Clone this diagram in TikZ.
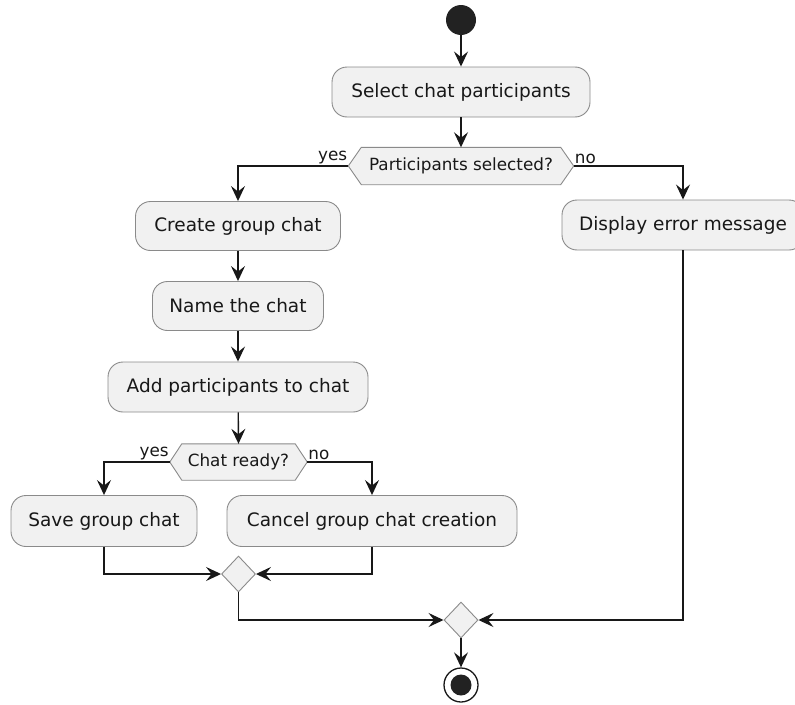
\documentclass[tikz,border=0pt]{standalone}
\usepackage{fontspec}
\setmainfont{DejaVu Sans}
\usetikzlibrary{arrows.meta,shapes.geometric,backgrounds}
\definecolor{actfill}{HTML}{F1F1F1}
\definecolor{actline}{HTML}{181818}
\definecolor{actborder}{HTML}{8A8A8A}
\definecolor{dotfill}{HTML}{222222}
\tikzset{
  actbox/.style={draw=actborder, line width=0.9pt, fill=actfill, rounded corners=15pt,
    minimum height=50pt, inner sep=0pt, font=\fontsize{18.5}{20}\selectfont, text=actline},
  hexnode/.style={minimum height=37pt, inner sep=0pt, font=\fontsize{16.8}{18}\selectfont, text=actline},
  hexshape/.style={draw=actborder, line width=0.9pt, fill=actfill},
  merge/.style={diamond, draw=actborder, line width=0.9pt, fill=actfill, inner sep=0pt,
    minimum width=34pt, minimum height=36pt},
  flow/.style={draw=actline, line width=1.4pt, -{Stealth[length=15pt,width=14pt,inset=5.5pt]}},
  guard/.style={font=\fontsize{16.8}{18}\selectfont, text=actline, inner sep=1pt},
}
\newcommand{\hexagonpath}[2]{%
  \path[hexshape] (#1.west) -- ([xshift=#2]#1.north west) -- ([xshift=-#2]#1.north east)
    -- (#1.east) -- ([xshift=-#2]#1.south east) -- ([xshift=#2]#1.south west) -- cycle;}
\begin{document}
\begin{tikzpicture}[x=1pt,y=1pt]
\useasboundingbox (0,0) rectangle (795,-704);

% start and activities
\node[circle, fill=dotfill, minimum size=30pt, inner sep=0pt] (start) at (461,-20) {};
\node[actbox, minimum width=258pt] (sel) at (461,-92) {Select chat participants};
\node[hexnode, minimum width=225pt] (d1) at (461,-166) {Participants selected?};
\node[actbox, minimum width=205pt, minimum height=49pt] (create) at (238,-226) {Create group chat};
\node[actbox, minimum width=242pt] (err) at (683,-225) {Display error message};
\node[actbox, minimum width=171pt, minimum height=49pt] (name) at (238,-306) {Name the chat};
\node[actbox, minimum width=260pt] (add) at (238,-387) {Add participants to chat};
\node[hexnode, minimum width=137pt, minimum height=36pt] (d2) at (238.5,-462) {Chat ready?};
\node[actbox, minimum width=186pt, minimum height=51pt] (save) at (104,-521) {Save group chat};
\node[actbox, minimum width=290pt, minimum height=51pt] (cancel) at (372,-521) {Cancel group chat creation};
\node[merge] (m1) at (238.5,-574) {};
\node[merge] (m2) at (461,-620) {};
\node[circle, draw=actline, line width=1.3pt, fill=white, minimum size=34pt, inner sep=0pt] (stop) at (461,-685) {};
\node[circle, fill=dotfill, minimum size=21pt, inner sep=0pt] (stopdot) at (stop.center) {};

% hexagonal decision outlines behind their text
\begin{scope}[on background layer]
  \hexagonpath{d1}{13pt}
  \hexagonpath{d2}{12pt}
\end{scope}

% main flow
\draw[flow] (start) -- (sel.north);
\draw[flow] (sel) -- (d1.north);
\draw[flow] (d1.west) -| (create.north);
\draw[flow] (d1.east) -| (err.north);
\draw[flow] (create) -- (name.north);
\draw[flow] (name) -- (add.north);
\draw[flow] (add) -- (d2.north);
\draw[flow] (d2.west) -| (save.north);
\draw[flow] (d2.east) -| (cancel.north);
\draw[flow] (save.south) |- (m1.west);
\draw[flow] (cancel.south) |- (m1.east);
\draw[flow] (m1.south) |- (m2.west);
\draw[flow] (err.south) |- (m2.east);
\draw[flow] (m2.south) -- (stop.north);

% guard labels
\node[guard, anchor=south east] (y1) at ([yshift=1pt]d1.west) {yes};
\node[guard, anchor=south west] (n1) at ([yshift=1pt]d1.east) {no};
\node[guard, anchor=south east] (y2) at ([yshift=1pt]d2.west) {yes};
\node[guard, anchor=south west] (n2) at ([yshift=1pt]d2.east) {no};
\end{tikzpicture}
\end{document}
